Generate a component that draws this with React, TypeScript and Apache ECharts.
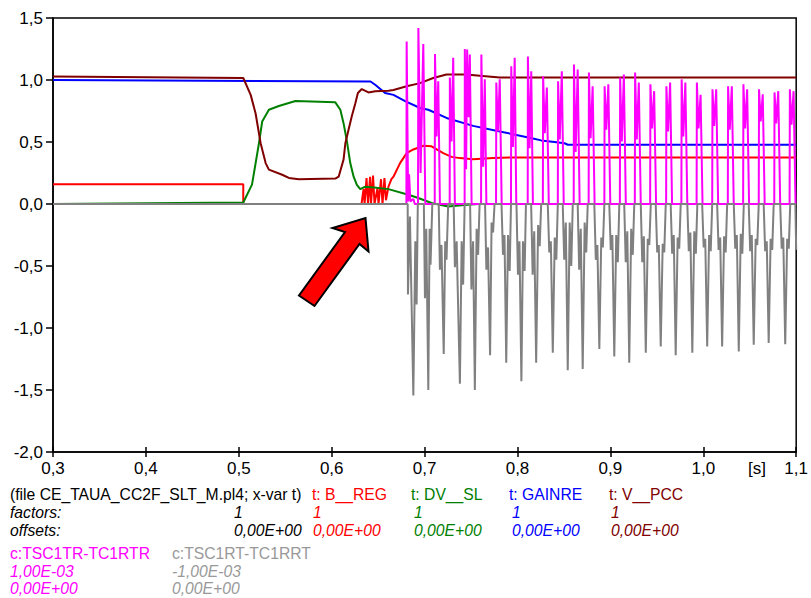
import React, { useEffect, useRef } from "react";
import * as echarts from "echarts";

// x ticks (s) and y ticks
const X_MIN = 0.3, X_MAX = 1.1, X_STEP = 0.1;
const Y_MIN = -2.0, Y_MAX = 1.5, Y_STEP = 0.5;

// t: B__REG (red)
const bReg: number[][] = [
  [0.3, 0.16], [0.5048, 0.16], [0.5048, 0], [0.6321, 0], [0.6343, 0.12], [0.6354, 0], [0.6375, 0.21], [0.6391, 0],
  [0.6413, 0.22], [0.6423, 0], [0.6445, 0.23], [0.6461, 0], [0.6493, 0.13], [0.6504, 0], [0.6531, 0.2], [0.6547, 0],
  [0.6568, 0.21], [0.6584, 0.03], [0.6611, 0.14], [0.6643, 0.2], [0.6665, 0.22], [0.6736, 0.33], [0.6807, 0.41],
  [0.6879, 0.44], [0.6986, 0.47], [0.7075, 0.465], [0.7201, 0.41], [0.729, 0.38], [0.738, 0.37], [0.7522, 0.36],
  [0.7737, 0.37], [0.7916, 0.375], [1.1, 0.375],
];

// t: DV__SL (green)
const dvSl: number[][] = [
  [0.3, 0], [0.5048, 0.012], [0.5142, 0.156], [0.5217, 0.49], [0.5252, 0.666], [0.5324, 0.76], [0.5431, 0.79],
  [0.561, 0.83], [0.6039, 0.82], [0.6093, 0.76], [0.6128, 0.65], [0.6164, 0.505], [0.62, 0.33], [0.6236, 0.22],
  [0.6271, 0.155], [0.6307, 0.12], [0.6361, 0.14], [0.6432, 0.135], [0.6611, 0.12], [0.6825, 0.075], [0.6932, 0.048],
  [0.7075, 0.008], [0.7254, -0.02], [0.7397, -0.01], [0.7576, 0], [1.1, 0],
];

// t: GAINRE (blue)
const gainre: number[][] = [
  [0.3, 1.0], [0.6418, 0.988], [0.6468, 0.962], [0.6575, 0.895], [0.6665, 0.88], [0.679, 0.83], [0.6951, 0.774],
  [0.704, 0.76], [0.7236, 0.694], [0.7522, 0.63], [0.7809, 0.585], [0.813, 0.535], [0.8255, 0.513], [0.8398, 0.5],
  [0.8506, 0.49], [0.8541, 0.478], [1.1, 0.478],
];

// t: V__PCC (dark red)
const vPcc: number[][] = [
  [0.3, 1.029], [0.5048, 1.016], [0.5128, 0.88], [0.5181, 0.73], [0.5235, 0.49], [0.5289, 0.33], [0.5324, 0.277],
  [0.5467, 0.236], [0.5539, 0.21], [0.5646, 0.2], [0.6039, 0.205], [0.6075, 0.22], [0.6128, 0.36], [0.6147, 0.49],
  [0.6182, 0.6], [0.6217, 0.71], [0.6254, 0.81], [0.6282, 0.895], [0.6324, 0.927], [0.6396, 0.9], [0.6468, 0.91],
  [0.6611, 0.914], [0.6665, 0.92], [0.6807, 0.95], [0.6951, 0.975], [0.7093, 1.016], [0.7236, 1.045],
  [0.7451, 1.045], [0.7594, 1.035], [0.7809, 1.02], [1.1, 1.02],
];

// c:TSC1TR-TC1RTR x 1,00E-03 (magenta)
const tsc1tr: number[][] = [
  [0.3, 0],
  [0.6804, 0], [0.6807, 1.31], [0.6823, 0.02], [0.6833, 0.24], [0.6847, 0.02], [0.6879, 0.04], [0.6895, 0],
  [0.6929, 0], [0.6933, 1.42], [0.6957, 0.25], [0.6986, 1.29], [0.7008, 0],
  [0.7109, 0], [0.7112, 1.21], [0.7129, 0.545], [0.7147, 0.99], [0.7165, 0],
  [0.727, 0], [0.7272, 1.02], [0.729, 0.505], [0.7308, 1.18], [0.7326, 0],
  [0.7431, 0], [0.7433, 1.25], [0.7447, 0.28], [0.7458, 1.245], [0.7474, 0.7], [0.7487, 1.205], [0.7506, 0],
  [0.7608, 0], [0.7611, 1.205], [0.763, 0.3], [0.7648, 1.005], [0.7665, 0],
  [0.7769, 0], [0.7772, 0.98], [0.779, 0.585], [0.7809, 1.005], [0.783, 0],
  [0.793, 0], [0.7933, 1.11], [0.7951, 0.46], [0.797, 1.18], [0.7987, 0],
  [0.811, 0], [0.8112, 1.19], [0.813, 0.45], [0.8148, 1.07], [0.8166, 0],
  [0.8273, 0], [0.8276, 1.03], [0.8294, 0.57], [0.8316, 0.94], [0.8337, 0],
  [0.8434, 0], [0.8437, 0.99], [0.8455, 0.52], [0.8477, 1.07], [0.8498, 0],
  [0.8605, 0], [0.8608, 1.125], [0.8626, 0.42], [0.8648, 1.085], [0.8669, 0],
  [0.8766, 0], [0.8769, 1.06], [0.8787, 0.53], [0.8809, 0.95], [0.883, 0],
  [0.8935, 0], [0.8938, 0.95], [0.8956, 0.6], [0.8978, 0.965], [0.8999, 0],
  [0.9102, 0], [0.9105, 1.02], [0.9123, 0.505], [0.9145, 1.045], [0.9166, 0],
  [0.9263, 0], [0.9266, 1.06], [0.9284, 0.52], [0.9306, 0.98], [0.9327, 0],
  [0.9428, 0], [0.9431, 0.965], [0.9449, 0.61], [0.9471, 0.91], [0.9492, 0],
  [0.96, 0], [0.9603, 0.95], [0.9621, 0.585], [0.9643, 0.98], [0.9664, 0],
  [0.9764, 0], [0.9767, 1.005], [0.9785, 0.545], [0.9807, 0.98], [0.9828, 0],
  [0.9928, 0], [0.9931, 0.98], [0.9949, 0.61], [0.9971, 0.88], [0.9992, 0],
  [1.0096, 0], [1.0099, 0.925], [1.0117, 0.63], [1.0139, 0.925], [1.016, 0],
  [1.0264, 0], [1.0267, 0.95], [1.0285, 0.6], [1.0307, 0.95], [1.0328, 0],
  [1.0429, 0], [1.0432, 0.965], [1.045, 0.61], [1.0472, 0.925], [1.0493, 0],
  [1.0597, 0], [1.06, 0.925], [1.0618, 0.665], [1.064, 0.885], [1.0661, 0],
  [1.0764, 0], [1.0767, 0.9], [1.0785, 0.65], [1.0807, 0.91], [1.0828, 0],
  [1.0929, 0], [1.0932, 0.925], [1.095, 0.64], [1.0972, 0.91], [1.0993, 0],
  [1.1, 0],
];

// c:TSC1RT-TC1RRT x -1,00E-03 (gray)
const tsc1rt: number[][] = [
  [0.3, 0],
  [0.6818, 0], [0.6821, -0.73], [0.6842, -0.1], [0.6879, -1.545], [0.69, -0.3], [0.6914, -0.81], [0.6927, 0],
  [0.6992, 0], [0.7004, -0.76], [0.7018, -0.2], [0.704, -1.5], [0.7054, -0.2], [0.7064, -0.49], [0.7083, 0],
  [0.7152, 0], [0.7165, -0.53], [0.7182, -0.33], [0.7206, -1.21], [0.7222, -0.3], [0.7236, -0.45], [0.7254, 0],
  [0.7313, 0], [0.7326, -0.51], [0.7345, -0.3], [0.738, -1.45], [0.7399, -0.3], [0.7415, -0.65], [0.7431, 0],
  [0.749, 0], [0.7504, -0.69], [0.7522, -0.3], [0.7541, -1.5], [0.756, -0.2], [0.7576, -0.41], [0.7592, 0],
  [0.7651, 0], [0.7665, -0.53], [0.7683, -0.35], [0.7705, -1.22], [0.7721, -0.15], [0.7737, -0.23], [0.7753, 0],
  [0.7828, 0], [0.7844, -0.41], [0.786, -0.25], [0.7879, -1.28], [0.7898, -0.25], [0.7916, -0.54], [0.793, 0],
  [0.7989, 0], [0.8005, -0.57], [0.8021, -0.3], [0.8042, -1.43], [0.8059, -0.3], [0.8077, -0.54], [0.8091, 0],
  [0.8147, 0], [0.8163, -0.57], [0.818, -0.22], [0.8201, -1.28], [0.8222, -0.17], [0.8239, -0.34], [0.8255, 0],
  [0.8326, 0], [0.8342, -0.39], [0.8359, -0.3], [0.838, -1.2], [0.8401, -0.27], [0.8418, -0.45], [0.8434, 0],
  [0.8487, 0], [0.8503, -0.45], [0.852, -0.15], [0.8541, -1.34], [0.8562, -0.15], [0.8579, -0.5], [0.8595, 0],
  [0.8648, 0], [0.8664, -0.53], [0.8681, -0.2], [0.8702, -1.33], [0.8723, -0.15], [0.874, -0.39], [0.8756, 0],
  [0.8827, 0], [0.8843, -0.45], [0.886, -0.33], [0.8881, -1.17], [0.8902, -0.27], [0.8919, -0.35], [0.8935, 0],
  [0.8988, 0], [0.9004, -0.37], [0.9021, -0.25], [0.9042, -1.23], [0.9063, -0.25], [0.908, -0.47], [0.9096, 0],
  [0.9149, 0], [0.9165, -0.47], [0.9182, -0.22], [0.9203, -1.28], [0.9224, -0.2], [0.9241, -0.41], [0.9257, 0],
  [0.9327, 0], [0.9343, -0.47], [0.936, -0.26], [0.9381, -1.2], [0.9402, -0.28], [0.9419, -0.33], [0.9435, 0],
  [0.9488, 0], [0.9504, -0.39], [0.9521, -0.33], [0.9542, -1.15], [0.9563, -0.32], [0.958, -0.39], [0.9596, 0],
  [0.9649, 0], [0.9665, -0.4], [0.9682, -0.25], [0.9703, -1.22], [0.9724, -0.27], [0.9741, -0.36], [0.9757, 0],
  [0.9828, 0], [0.9844, -0.38], [0.9861, -0.23], [0.9882, -1.2], [0.9903, -0.22], [0.992, -0.4], [0.9936, 0],
  [0.9988, 0], [1.0004, -0.35], [1.0021, -0.28], [1.0042, -1.15], [1.0063, -0.25], [1.008, -0.38], [1.0096, 0],
  [1.0149, 0], [1.0165, -0.37], [1.0182, -0.27], [1.0203, -1.15], [1.0224, -0.26], [1.0241, -0.39], [1.0257, 0],
  [1.0328, 0], [1.0344, -0.36], [1.0361, -0.25], [1.0382, -1.19], [1.0403, -0.24], [1.042, -0.4], [1.0436, 0],
  [1.0489, 0], [1.0505, -0.38], [1.0522, -0.25], [1.0543, -1.135], [1.0564, -0.28], [1.0581, -0.33], [1.0597, 0],
  [1.065, 0], [1.0666, -0.38], [1.0683, -0.3], [1.0704, -1.12], [1.0725, -0.28], [1.0742, -0.37], [1.0758, 0],
  [1.0828, 0], [1.0844, -0.36], [1.0861, -0.27], [1.0882, -1.13], [1.0903, -0.28], [1.092, -0.36], [1.0936, 0],
  [1.0991, 0], [1.1, -0.37],
];

// legend rows
const fileLabel = "(file CE_TAUA_CC2F_SLT_M.pl4; x-var t)";
const topNames = ["t: B__REG", "t: DV__SL", "t: GAINRE", "t: V__PCC"];
const topColors = ["#ff0000", "#008000", "#0000ff", "#800000"];
const topFactors = ["1", "1", "1", "1"];
const topOffsets = ["0,00E+00", "0,00E+00", "0,00E+00", "0,00E+00"];
const botNames = ["c:TSC1TR-TC1RTR", "c:TSC1RT-TC1RRT"];
const botColors = ["#ff00ff", "#999999"];
const botFactors = ["1,00E-03", "-1,00E-03"];
const botOffsets = ["0,00E+00", "0,00E+00"];

const FONT = '"Liberation Sans", Arial, sans-serif';

export default function App() {
  const ref = useRef<HTMLDivElement>(null);
  useEffect(() => {
    if (!ref.current) return;
    const chart = echarts.init(ref.current, null, { renderer: "svg" });
    const fmt = (v: number) => v.toFixed(1).replace(".", ",");
    const LF = "15.7px " + FONT;
    const LFI = "italic 15.7px " + FONT;
    const topX = [312, 411, 509, 609];
    const valX = [313, 414, 512, 611];
    const txt = (x: number, y: number, text: string, fill: string, font: string) => ({
      type: "text", x, y, silent: true,
      style: { text, fill, font, verticalAlign: "middle", align: "left" },
    });
    const graphics: any[] = [
      txt(10, 494, fileLabel, "#000", LF),
      txt(10, 512, "factors:", "#000", LFI),
      txt(10, 530, "offsets:", "#000", LFI),
      txt(234, 512, "1", "#000", LFI),
      txt(234, 530, "0,00E+00", "#000", LFI),
      ...topNames.map((n, i) => txt(topX[i], 494, n, topColors[i], LF)),
      ...topFactors.map((n, i) => txt(valX[i], 512, n, topColors[i], LFI)),
      ...topOffsets.map((n, i) => txt(valX[i], 530, n, topColors[i], LFI)),
      ...botNames.map((n, i) => txt(i === 0 ? 10 : 172, 553, n, botColors[i], LF)),
      ...botFactors.map((n, i) => txt(i === 0 ? 10 : 172, 571, n, botColors[i], LFI)),
      ...botOffsets.map((n, i) => txt(i === 0 ? 10 : 172, 588, n, botColors[i], LFI)),
      {
        type: "text", x: 757, y: 468, silent: true,
        style: { text: "[s]", fill: "#000", font: "17px " + FONT, align: "center", verticalAlign: "middle" },
      },
      {
        type: "polygon", silent: true, z: 100,
        shape: { points: [[365.5, 218], [368.5, 251.5], [359.5, 244], [314.5, 306], [299, 295.5], [345, 232], [332.5, 228]] },
        style: { fill: "#ff0000", stroke: "#000", lineWidth: 2, lineJoin: "miter" },
      },
    ];
    const line = (name: string, data: number[][], color: string, width: number, z: number) => ({
      name, type: "line", data, showSymbol: false, symbol: "none", z,
      lineStyle: { color, width }, itemStyle: { color }, emphasis: { disabled: true },
    });
    chart.setOption({
      animation: false,
      backgroundColor: "#fff",
      grid: { left: 53, right: 12, top: 18, bottom: 146, show: true, borderColor: "#000", borderWidth: 1.5, backgroundColor: "transparent" },
      xAxis: [
        {
          type: "value", min: X_MIN, max: X_MAX, interval: X_STEP, position: "bottom",
          axisLine: { onZero: false, lineStyle: { color: "#000", width: 1.5 } },
          axisTick: { length: 5, lineStyle: { color: "#000", width: 1.5 } },
          axisLabel: { formatter: fmt, fontSize: 17, color: "#000", margin: 8, fontFamily: FONT, showMaxLabel: true, showMinLabel: true },
          splitLine: { show: false },
        },
        {
          type: "value", min: X_MIN, max: X_MAX, interval: X_STEP, position: "bottom",
          axisLine: { show: false, onZero: false },
          axisTick: { show: true, inside: true, length: 5, lineStyle: { color: "#000", width: 1.5 } },
          axisLabel: { show: false },
          splitLine: { show: false },
        },
      ],
      yAxis: {
        type: "value", min: Y_MIN, max: Y_MAX, interval: Y_STEP,
        axisLine: { show: true, onZero: false, lineStyle: { color: "#000", width: 1.5 } },
        axisTick: { show: true, length: 7, lineStyle: { color: "#000", width: 1.5 } },
        axisLabel: { formatter: fmt, fontSize: 17, color: "#000", margin: 10, fontFamily: FONT },
        splitLine: { show: false },
      },
      series: [
        line("t: B__REG", bReg, "#ff0000", 2, 2),
        line("t: DV__SL", dvSl, "#008000", 2, 2),
        line("t: GAINRE", gainre, "#0000ff", 2, 2),
        line("t: V__PCC", vPcc, "#800000", 2, 2),
        line("c:TSC1TR-TC1RTR", tsc1tr, "#ff00ff", 2, 3),
        line("c:TSC1RT-TC1RRT", tsc1rt, "#808080", 2, 4),
      ],
      graphic: graphics,
    });
    return () => chart.dispose();
  }, []);
  return <div ref={ref} style={{ position: "absolute", left: 0, top: 0, width: 811, height: 598 }} />;
}
